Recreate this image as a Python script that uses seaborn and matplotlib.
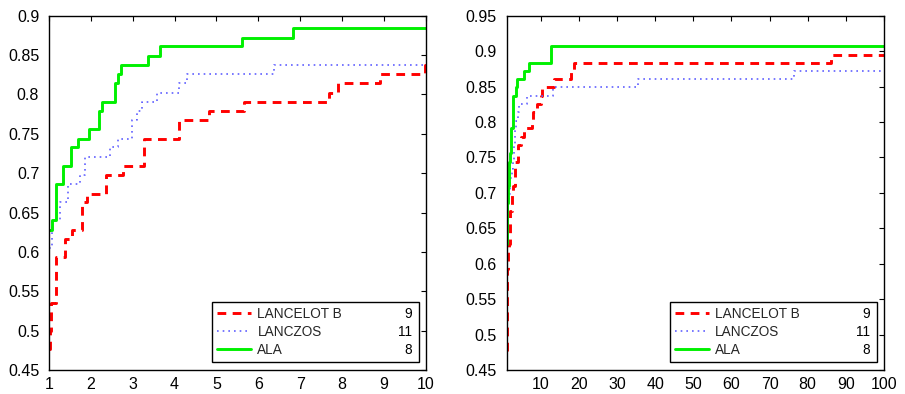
import numpy as np
import pandas as pd
import seaborn as sns
import matplotlib
matplotlib.use("Agg")
import matplotlib.pyplot as plt

# performance profile data (tau, fraction of problems)
tau_lancelot = [1.0, 1.02, 1.04, 1.17, 1.38, 1.55, 1.8, 1.9, 2.36, 2.76, 3.26, 4.1, 4.82,
                5.66, 7.69, 7.9, 8.9, 9.98, 10.3, 13.5, 18.0, 18.8, 86.2, 100.0]
rho_lancelot = [0.477, 0.500, 0.535, 0.593, 0.616, 0.628, 0.663, 0.674, 0.698, 0.709, 0.744, 0.767, 0.779,
                0.791, 0.802, 0.814, 0.826, 0.837, 0.849, 0.861, 0.872, 0.884, 0.895, 0.895]

tau_lanczos = [1.0, 1.08, 1.26, 1.46, 1.74, 1.86, 2.46, 2.66, 2.98, 3.1, 3.22, 3.58, 4.1,
               4.3, 6.37, 13.3, 35.5, 76.5, 100.0]
rho_lanczos = [0.605, 0.640, 0.663, 0.686, 0.698, 0.721, 0.733, 0.744, 0.767, 0.779, 0.791, 0.802, 0.814,
               0.826, 0.837, 0.849, 0.861, 0.872, 0.872]

tau_ala = [1.0, 1.065, 1.17, 1.34, 1.53, 1.70, 1.96, 2.20, 2.28, 2.58, 2.64, 2.73, 3.36,
           3.66, 5.6, 6.83, 12.7, 100.0]
rho_ala = [0.628, 0.640, 0.686, 0.709, 0.733, 0.744, 0.756, 0.779, 0.791, 0.814, 0.826, 0.837, 0.849,
           0.861, 0.872, 0.884, 0.907, 0.907]

solvers = ["LANCELOT B", "LANCZOS", "ALA"]
counts = ["9", "11", "8"]

sns.set_theme(style="white")
plt.rcParams['font.family'] = ['Liberation Sans', 'DejaVu Sans']
plt.rcParams['xtick.direction'] = 'in'
plt.rcParams['ytick.direction'] = 'in'

series = [
    (tau_lancelot, rho_lancelot, dict(color="#ff0000", lw=2.1, dashes=(3, 2.2))),
    (tau_lanczos, rho_lanczos, dict(color="#6060ff", lw=1.2, dashes=(1, 2.4))),
    (tau_ala, rho_ala, dict(color="#00f000", lw=2.1, dashes=())),
]

fig = plt.figure(figsize=(9.05, 3.94), dpi=100)
ax1 = fig.add_axes([0.054, 0.061, 0.4166, 0.899])
ax2 = fig.add_axes([0.5597, 0.061, 0.417, 0.899])


def draw(ax, xlim, xticks, ylim, yticks, ylabels):
    for (t, r, st), name in zip(series, solvers):
        df = pd.DataFrame({"tau": t, "rho": r})
        sns.lineplot(data=df, x="tau", y="rho", ax=ax, estimator=None, sort=False,
                     drawstyle="steps-post", label=name, **st)
    ax.set_xlim(*xlim)
    ax.set_ylim(*ylim)
    ax.set_xticks(xticks)
    ax.set_xticklabels([str(v) for v in xticks])
    ax.set_yticks(yticks)
    ax.set_yticklabels(ylabels)
    ax.set_xlabel("")
    ax.set_ylabel("")
    ax.tick_params(axis="both", which="both", direction="in", top=True, right=True,
                   length=3.5, width=0.8, color="black", labelsize=11.5, labelcolor="black")
    ax.tick_params(axis="y", pad=7)
    ax.tick_params(axis="x", pad=5)
    for sp in ax.spines.values():
        sp.set_visible(True)
        sp.set_color("black")
        sp.set_linewidth(1.0)
    leg = ax.legend(loc="lower left", bbox_to_anchor=(0.434, 0.023, 0.547, 0.157), mode="expand",
                    borderaxespad=0, fontsize=9.8, handlelength=2.5, handletextpad=0.45,
                    labelspacing=0.3, borderpad=0.35, fancybox=False, framealpha=1,
                    edgecolor="black")
    leg.get_frame().set_linewidth(1.0)
    return leg


leg1 = draw(ax1, (1, 10), list(range(1, 11)), (0.45, 0.9),
            [0.45, 0.5, 0.55, 0.6, 0.65, 0.7, 0.75, 0.8, 0.85, 0.9],
            ["0.45", "0.5", "0.55", "0.6", "0.65", "0.7", "0.75", "0.8", "0.85", "0.9"])
leg2 = draw(ax2, (1, 100), list(range(10, 101, 10)), (0.45, 0.95),
            [0.45, 0.5, 0.55, 0.6, 0.65, 0.7, 0.75, 0.8, 0.85, 0.9, 0.95],
            ["0.45", "0.5", "0.55", "0.6", "0.65", "0.7", "0.75", "0.8", "0.85", "0.9", "0.95"])

# counts on the right side of each legend row
fig.canvas.draw()
for leg in (leg1, leg2):
    frame = leg.get_frame().get_window_extent()
    for txt, c in zip(leg.get_texts(), counts):
        bb = txt.get_window_extent()
        x, y = fig.transFigure.inverted().transform((frame.x1 - 7, (bb.y0 + bb.y1) / 2))
        fig.text(x, y, c, ha="right", va="center", fontsize=9.8, color="black")

fig.savefig("out.png", dpi=100)
